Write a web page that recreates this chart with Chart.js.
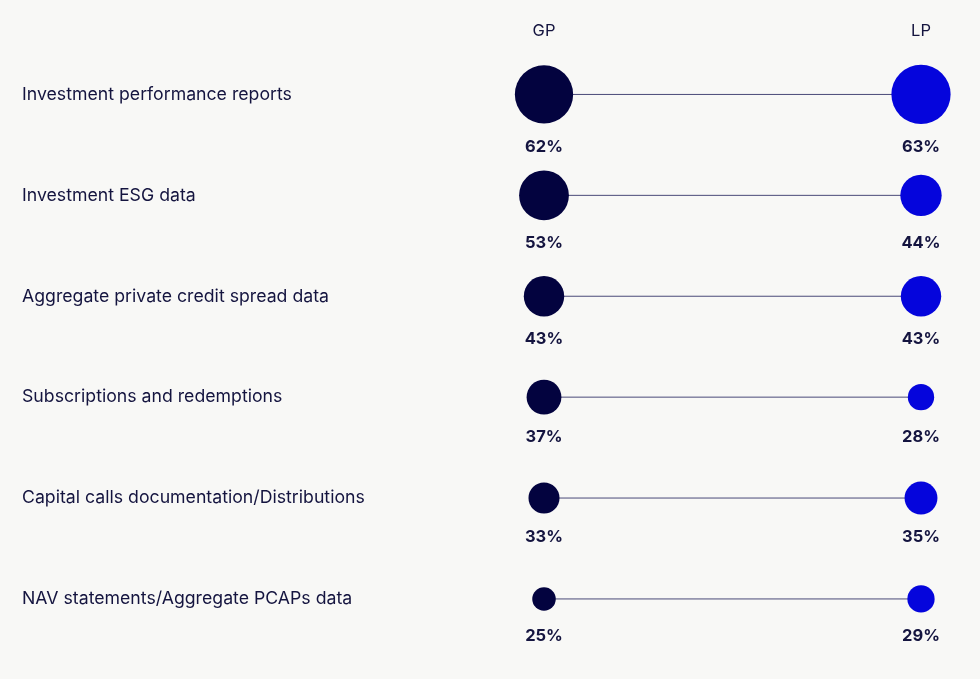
<!DOCTYPE html>
<html><head><meta charset="utf-8">
<script src="https://cdn.jsdelivr.net/npm/chart.js@4"></script>
<style>html,body{margin:0;padding:0;background:#f8f8f6;}#w{width:980px;height:679px;}</style>
</head><body><div id="w"><canvas id="c"></canvas></div>
<script>
const categories = ["Investment performance reports","Investment ESG data","Aggregate private credit spread data","Subscriptions and redemptions","Capital calls documentation/Distributions","NAV statements/Aggregate PCAPs data"];
const gpValues = [62,53,43,37,33,25];
const lpValues = [63,44,43,28,35,29];
const seriesLabels = ["GP","LP"];
const GP_COLOR = "#03033f", LP_COLOR = "#0505dc", TEXT = "#14143f";
const rad = v => v*0.47;

const lineSets = categories.map((c,i)=>({type:'line',data:[{x:0,y:i},{x:1,y:i}],borderColor:'#4a4a78',borderWidth:1,pointRadius:0,order:2,clip:false}));
const gpSet = {type:'bubble',label:seriesLabels[0],data:gpValues.map((v,i)=>({x:0,y:i,r:rad(v),v})),backgroundColor:GP_COLOR,borderWidth:0,order:1,clip:false};
const lpSet = {type:'bubble',label:seriesLabels[1],data:lpValues.map((v,i)=>({x:1,y:i,r:rad(v),v})),backgroundColor:LP_COLOR,borderWidth:0,order:1,clip:false};

const labelPlugin = {id:'lbl',afterDatasetsDraw(chart){
  const ctx=chart.ctx, xs=chart.scales.x, ys=chart.scales.y;
  ctx.save(); ctx.fillStyle=TEXT; ctx.textBaseline='middle';
  ctx.font='16.5px Inter'; ctx.textAlign='center';
  ctx.fillText(seriesLabels[0],xs.getPixelForValue(0),31);
  ctx.fillText(seriesLabels[1],xs.getPixelForValue(1),31);
  categories.forEach((c,i)=>{
    const y=ys.getPixelForValue(i);
    ctx.font='17.7px Inter'; ctx.textAlign='left';
    ctx.fillText(c,22,y);
    const m=Math.max(rad(gpValues[i]),rad(lpValues[i]));
    ctx.font='bold 16.5px Inter'; ctx.textAlign='center';
    ctx.fillText(gpValues[i]+'%',xs.getPixelForValue(0),y+m+23);
    ctx.fillText(lpValues[i]+'%',xs.getPixelForValue(1),y+m+23);
  });
  ctx.restore();
}};

new Chart(document.getElementById('c'),{
  data:{datasets:[...lineSets,gpSet,lpSet]},
  options:{responsive:true,maintainAspectRatio:false,animation:false,
    layout:{padding:{left:544,right:59,top:44,bottom:12}},
    plugins:{legend:{display:false},tooltip:{enabled:false}},
    scales:{x:{type:'linear',min:0,max:1,display:false},
            y:{type:'linear',min:-0.5,max:5.5,reverse:true,display:false}}},
  plugins:[labelPlugin]
});
</script></body></html>
